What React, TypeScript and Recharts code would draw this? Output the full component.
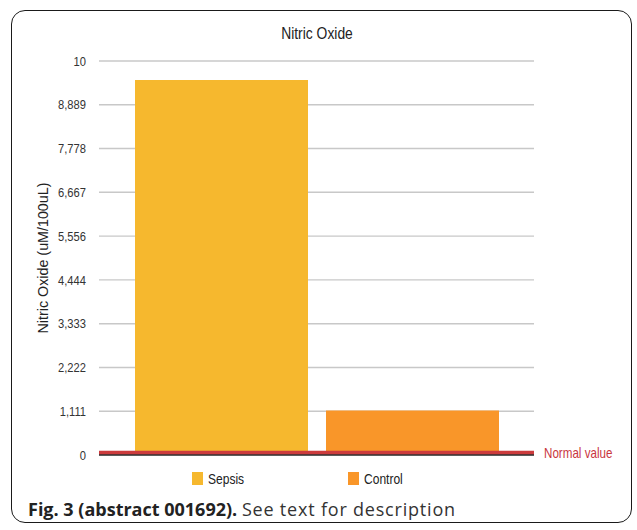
import React from "react";
import { BarChart, Bar, XAxis, YAxis, CartesianGrid, Legend, ReferenceLine, Label } from "recharts";

const categories = ["Nitric Oxide"];
const sepsisValues = [9.52];
const controlValues = [1.13];
const tickValues = [0, 1.111, 2.222, 3.333, 4.444, 5.556, 6.667, 7.778, 8.889, 10];
const tickLabels = ["0", "1,111", "2,222", "3,333", "4,444", "5,556", "6,667", "7,778", "8,889", "10"];
const normalValue = 0.055;
const seriesNames = ["Sepsis", "Control"];

const data = categories.map((c, i) => ({ name: c, sepsis: sepsisValues[i], control: controlValues[i] }));

const FONT = '"Liberation Sans", Arial, Helvetica, sans-serif';
const SEPSIS = "#F6B82E";
const CONTROL = "#F99629";

const legendX = [192, 348];

function YTick(props: any) {
  const { x, y, payload } = props;
  const idx = tickValues.indexOf(payload.value);
  const label = idx >= 0 ? tickLabels[idx] : String(payload.value);
  return (
    <g transform={`translate(${x},${y}) scale(0.86,1)`}>
      <text x={0} y={0} dy="0.355em" textAnchor="end" fontFamily={FONT} fontSize={13} fill="#333">
        {label}
      </text>
    </g>
  );
}

function NormalLabel(props: any) {
  const vb = props.viewBox || {};
  const x = (vb.x || 0) + (vb.width || 0) + 10;
  const y = vb.y || 0;
  return (
    <g transform={`translate(${x},${y}) scale(0.83,1)`}>
      <text x={0} y={0} dy="0.355em" textAnchor="start" fontFamily={FONT} fontSize={14} fill="#C9363E">
        {props.value}
      </text>
    </g>
  );
}

function LegendContent(props: any) {
  const payload = props.payload || [];
  return (
    <div style={{ height: 0, overflow: "visible" }}>
      <svg width={637} height={30} style={{ overflow: "visible", display: "block" }}>
        {payload.map((p: any) => {
          const i = seriesNames.indexOf(p.value);
          return (
            <g key={p.value}>
              <rect x={legendX[i]} y={6} width={11} height={13} fill={p.color} />
              <g transform={`translate(${legendX[i] + 16},17.5) scale(0.86,1)`}>
                <text x={0} y={0} fontFamily={FONT} fontSize={14} fill="#222">
                  {p.value}
                </text>
              </g>
            </g>
          );
        })}
      </svg>
    </div>
  );
}

export default function App() {
  return (
    <div style={{ position: "absolute", left: 0, top: 0, width: 637, height: 530, background: "#fff" }}>
      <div
        style={{
          position: "absolute",
          left: 11,
          top: 10,
          width: 619,
          height: 511,
          border: "1.5px solid #1a1a1a",
          borderRadius: 14,
        }}
      />
      <div
        style={{
          position: "absolute",
          left: 0,
          top: 24,
          width: 634,
          textAlign: "center",
          fontFamily: FONT,
          fontSize: 16.5,
          color: "#222",
          transform: "scaleX(0.84)",
          transformOrigin: "317px 0",
        }}
      >
        Nitric Oxide
      </div>
      <div style={{ position: "absolute", left: 0, top: 0 }}>
        <BarChart
          width={637}
          height={530}
          data={data}
          margin={{ top: 61, right: 103, bottom: 73, left: 0 }}
          barSize={173}
          barGap={18}
        >
          <CartesianGrid vertical={false} stroke="#c8c8c8" strokeWidth={1.4} />
          <XAxis dataKey="name" tick={false} tickLine={false} height={2} axisLine={{ stroke: "#333", strokeWidth: 1.6 }} />
          <YAxis
            width={99}
            domain={[0, 10]}
            ticks={tickValues}
            tickLine={false}
            axisLine={false}
            tickSize={0}
            tickMargin={13}
            tick={<YTick />}
            interval={0}
          >
            <Label
              value="Nitric Oxide (uM/100uL)"
              angle={-90}
              position="insideLeft"
              offset={43}
              style={{ textAnchor: "middle", fontFamily: FONT, fontSize: 14.3, fill: "#222" }}
            />
          </YAxis>
          <Bar dataKey="sepsis" name={seriesNames[0]} fill={SEPSIS} isAnimationActive={false} />
          <Bar dataKey="control" name={seriesNames[1]} fill={CONTROL} isAnimationActive={false} />
          <ReferenceLine
            y={normalValue}
            stroke="#CC3B3D"
            strokeWidth={4.4}
            label={<Label value="Normal value" content={<NormalLabel />} />}
          />
          <Legend
            content={<LegendContent />}
            wrapperStyle={{ left: 0, top: 466, bottom: "auto", width: 637 }}
          />
        </BarChart>
      </div>
      <div
        style={{
          position: "absolute",
          left: 28,
          top: 497,
          fontFamily: '"Open Sans", "Noto Sans", sans-serif',
          fontSize: 18,
          color: "#222",
          whiteSpace: "nowrap",
        }}
      >
        <b>Fig. 3 (abstract 001692).</b>{" "}
        <span style={{ letterSpacing: "0.8px", color: "#333" }}>See text for description</span>
      </div>
    </div>
  );
}
